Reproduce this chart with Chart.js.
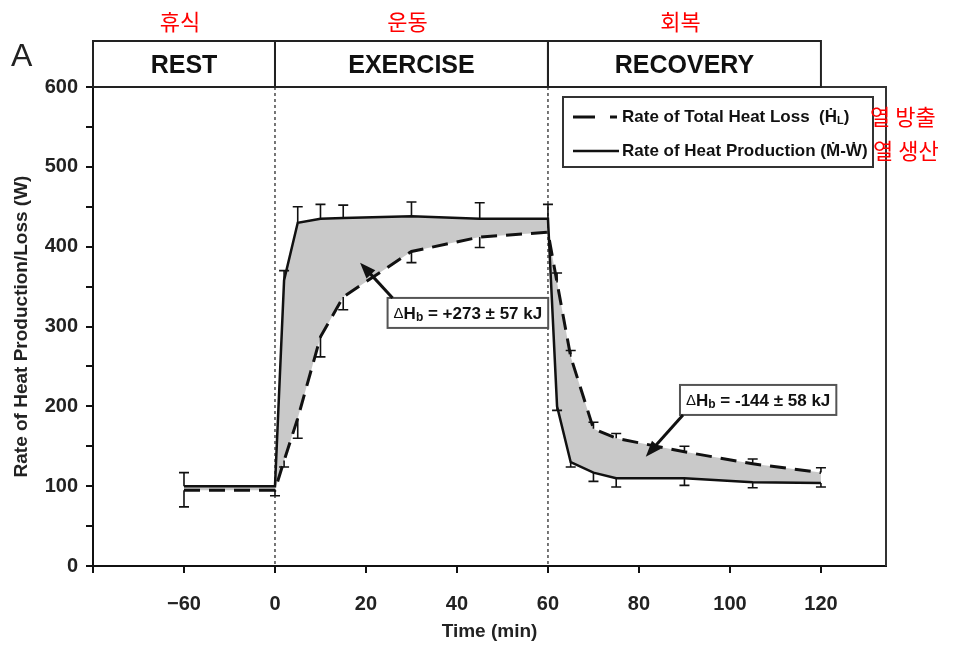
<!DOCTYPE html>
<html>
<head>
<meta charset="utf-8">
<script src="https://cdn.jsdelivr.net/npm/chart.js@4.4.1/dist/chart.umd.min.js"></script>
<style>
body{margin:0;background:#fff;}
#wrap{width:957px;height:645px;}
</style>
</head>
<body>
<div id="wrap"><canvas id="heatChart" width="957" height="645"></canvas></div>
<script>
// time points (min). the -60 rest value sits on a compressed (broken) part of the axis
const timeMin=[-60,0,2,5,10,15,30,45,60,62,65,70,75,90,105,120];
const heatProduction=[100,100,358,430,435,436,438,435,435,200,130,117,110,110,105,104];
const productionErr=[17,0,12,20,18,16,18,20,18,-5,-6,-11,-11,-9,-7,-5];
const heatLoss=[95,95,132,185,287,337,394,412,418,355,262,172,160,143,128,117];
const lossErr=[-21,-7,-8,-25,-25,-16,-14,-13,0,12,8,8,6,7,6,6];
const xTicks=[-60,0,20,40,60,80,100,120];
const phaseNames=["REST","EXERCISE","RECOVERY"];
const phaseNamesKo=["휴식","운동","회복"];
const phaseEnds=[0,60,120];
const legendLabels=["Rate of Total Heat Loss","Rate of Heat Production"];
const legendKo=["열 방출","열 생산"];
const storageLabels=["+273 ± 57 kJ","-144 ± 58 kJ"];

const F='"Liberation Sans", Arial, Helvetica, sans-serif';
const KO='"Noto Sans CJK KR", sans-serif';
const axisX=t=>t<0?t/3:t;

function arrow(ctx,x1,y1,x2,y2){
    const a=Math.atan2(y2-y1,x2-x1),L=16,W=6;
    ctx.strokeStyle='#111';ctx.fillStyle='#111';
    ctx.lineWidth=3;ctx.setLineDash([]);
    ctx.beginPath();ctx.moveTo(x1,y1);ctx.lineTo(x2-L*0.7*Math.cos(a),y2-L*0.7*Math.sin(a));ctx.stroke();
    ctx.beginPath();ctx.moveTo(x2,y2);
    ctx.lineTo(x2-L*Math.cos(a)+W*Math.sin(a),y2-L*Math.sin(a)-W*Math.cos(a));
    ctx.lineTo(x2-L*Math.cos(a)-W*Math.sin(a),y2-L*Math.sin(a)+W*Math.cos(a));
    ctx.closePath();ctx.fill();
}

function deltaLabel(ctx,cx,cy,value){
    const parts=[['Δ','15px '+F,0],['H','bold 17px '+F,0],['b','bold 12px '+F,4],[' = '+value,'bold 17px '+F,0]];
    let w=0;
    parts.forEach(p=>{ctx.font=p[1];w+=ctx.measureText(p[0]).width;});
    const bw=w+12,bh=30,left=cx-bw/2,top=cy-bh/2;
    ctx.fillStyle='#fff';ctx.fillRect(left,top,bw,bh);
    ctx.strokeStyle='#555';ctx.lineWidth=2;ctx.setLineDash([]);
    ctx.strokeRect(left,top,bw,bh);
    ctx.fillStyle='#111';ctx.textAlign='left';ctx.textBaseline='middle';
    let x=cx-w/2;
    parts.forEach(p=>{ctx.font=p[1];ctx.fillText(p[0],x,cy+1+p[2]);x+=ctx.measureText(p[0]).width;});
    return {left:left,top:top,right:left+bw,bottom:top+bh};
}

const deco={
    id:'deco',
    beforeDatasetsDraw(chart){
        const ctx=chart.ctx,xs=chart.scales.x,a=chart.chartArea;
        ctx.save();
        ctx.strokeStyle='#555';ctx.lineWidth=1.6;ctx.setLineDash([3,3]);
        [0,60].forEach(t=>{
            const px=xs.getPixelForValue(axisX(t));
            ctx.beginPath();ctx.moveTo(px,a.top);ctx.lineTo(px,a.bottom);ctx.stroke();
        });
        ctx.restore();
    },
    afterDatasetsDraw(chart){
        const ctx=chart.ctx,xs=chart.scales.x,ys=chart.scales.y;
        ctx.save();
        ctx.strokeStyle='#111';ctx.lineWidth=1.6;ctx.setLineDash([]);
        const bars=(vals,errs)=>{
            vals.forEach((v,i)=>{
                if(!errs[i])return;
                const px=xs.getPixelForValue(axisX(timeMin[i]));
                const y0=ys.getPixelForValue(v),y1=ys.getPixelForValue(v+errs[i]);
                ctx.beginPath();ctx.moveTo(px,y0);ctx.lineTo(px,y1);
                ctx.moveTo(px-5,y1);ctx.lineTo(px+5,y1);ctx.stroke();
            });
        };
        bars(heatProduction,productionErr);
        bars(heatLoss,lossErr);
        ctx.restore();
    },
    afterDraw(chart){
        const ctx=chart.ctx,xs=chart.scales.x,ys=chart.scales.y,a=chart.chartArea;
        ctx.save();
        ctx.setLineDash([]);
        // top and right frame
        ctx.strokeStyle='#333';ctx.lineWidth=2;
        ctx.beginPath();ctx.moveTo(a.left,a.top);ctx.lineTo(a.right,a.top);ctx.lineTo(a.right,a.bottom);ctx.stroke();

        // phase header
        const hTop=41;
        let prev=a.left;
        ctx.strokeStyle='#222';ctx.lineWidth=2;
        phaseEnds.forEach((t,i)=>{
            const px=xs.getPixelForValue(axisX(t));
            ctx.strokeRect(prev,hTop,px-prev,a.top-hTop);
            const mid=(prev+px)/2;
            ctx.fillStyle='#111';ctx.font='bold 25px '+F;
            ctx.textAlign='center';ctx.textBaseline='middle';
            ctx.fillText(phaseNames[i],mid,hTop+25);
            ctx.fillStyle='#f00';ctx.font='22px '+KO;
            ctx.fillText(phaseNamesKo[i],mid-4,22);
            prev=px;
        });

        // panel letter
        ctx.fillStyle='#222';ctx.font='32px '+F;ctx.textAlign='left';
        ctx.fillText('A',11,57);

        // legend
        const lx=a.right-323,ly=a.top+10,r1=ly+20,r2=ly+54;
        ctx.strokeStyle='#333';ctx.lineWidth=2;ctx.strokeRect(lx,ly,310,70);
        ctx.strokeStyle='#111';ctx.lineWidth=3;
        ctx.beginPath();ctx.moveTo(lx+10,r1);ctx.lineTo(lx+32,r1);ctx.moveTo(lx+47,r1);ctx.lineTo(lx+54,r1);ctx.stroke();
        ctx.lineWidth=2.5;
        ctx.beginPath();ctx.moveTo(lx+10,r2);ctx.lineTo(lx+56,r2);ctx.stroke();
        ctx.fillStyle='#111';ctx.font='bold 17px '+F;ctx.textBaseline='middle';
        let tx=lx+59;
        const t1=legendLabels[0]+'  (Ḣ';
        ctx.fillText(t1,tx,r1);tx+=ctx.measureText(t1).width;
        ctx.font='bold 11px '+F;ctx.fillText('L',tx,r1+4);tx+=ctx.measureText('L').width;
        ctx.font='bold 17px '+F;ctx.fillText(')',tx,r1);
        ctx.fillText(legendLabels[1]+' (Ṁ-Ẇ)',lx+59,r2);
        ctx.fillStyle='#f00';ctx.font='22px '+KO;
        ctx.fillText(legendKo[0],lx+307,r1);
        ctx.fillText(legendKo[1],lx+310,r2);

        // heat storage annotations
        const b1=deltaLabel(ctx,xs.getPixelForValue(42.4),ys.getPixelForValue(317),storageLabels[0]);
        arrow(ctx,b1.left+5,b1.top,xs.getPixelForValue(18.7),ys.getPixelForValue(380));
        const b2=deltaLabel(ctx,xs.getPixelForValue(106.2),ys.getPixelForValue(208),storageLabels[1]);
        arrow(ctx,b2.left+3,b2.bottom,xs.getPixelForValue(81.5),ys.getPixelForValue(137));
        ctx.restore();
    }
};

const prodPoints=heatProduction.map((v,i)=>({x:axisX(timeMin[i]),y:v}));
const lossPoints=heatLoss.map((v,i)=>({x:axisX(timeMin[i]),y:v}));

new Chart(document.getElementById('heatChart').getContext('2d'),{
    type:'line',
    data:{
        datasets:[{
            label:legendLabels[1],
            data:prodPoints,
            borderColor:'#111',
            borderWidth:2.5,
            pointRadius:0,
            tension:0,
            fill:'+1',
            backgroundColor:'#c9c9c9'
        },{
            label:legendLabels[0],
            data:lossPoints,
            borderColor:'#111',
            borderWidth:3,
            borderDash:[16,9],
            pointRadius:0,
            tension:0,
            fill:false
        }]
    },
    options:{
        responsive:false,
        animation:false,
        layout:{padding:{left:0,top:87,right:71,bottom:0}},
        plugins:{
            legend:{display:false},
            tooltip:{enabled:false},
            filler:{drawTime:'beforeDatasetsDraw'}
        },
        scales:{
            x:{
                type:'linear',
                min:-40,
                max:134.3,
                // left corner tick plus the labelled times
                afterBuildTicks:s=>{s.ticks=[{value:-40}].concat(xTicks.map(t=>({value:axisX(t)})));},
                afterFit:s=>{s.height=79;},
                ticks:{
                    padding:19,
                    color:'#222',
                    font:{family:F,size:20,weight:'bold'},
                    callback:v=>v<=-40?'':(v<0?'\u2212'+(-v*3):v)
                },
                grid:{drawOnChartArea:false,tickLength:7,color:'#111',lineWidth:2},
                border:{color:'#111',width:2},
                title:{display:true,text:'Time (min)',color:'#222',font:{family:F,size:19,weight:'bold'},padding:{top:0,bottom:2}}
            },
            y:{
                min:0,
                max:600,
                afterFit:s=>{s.width=93;},
                ticks:{
                    stepSize:50,
                    padding:8,
                    color:'#222',
                    font:{family:F,size:20,weight:'bold'},
                    callback:v=>v%100===0?v:''
                },
                grid:{drawOnChartArea:false,tickLength:7,color:'#111',lineWidth:2},
                border:{color:'#111',width:2},
                title:{display:true,text:'Rate of Heat Production/Loss (W)',color:'#222',font:{family:F,size:19,weight:'bold'},padding:{top:10,bottom:0}}
            }
        }
    },
    plugins:[deco]
});
</script>
</body>
</html>
